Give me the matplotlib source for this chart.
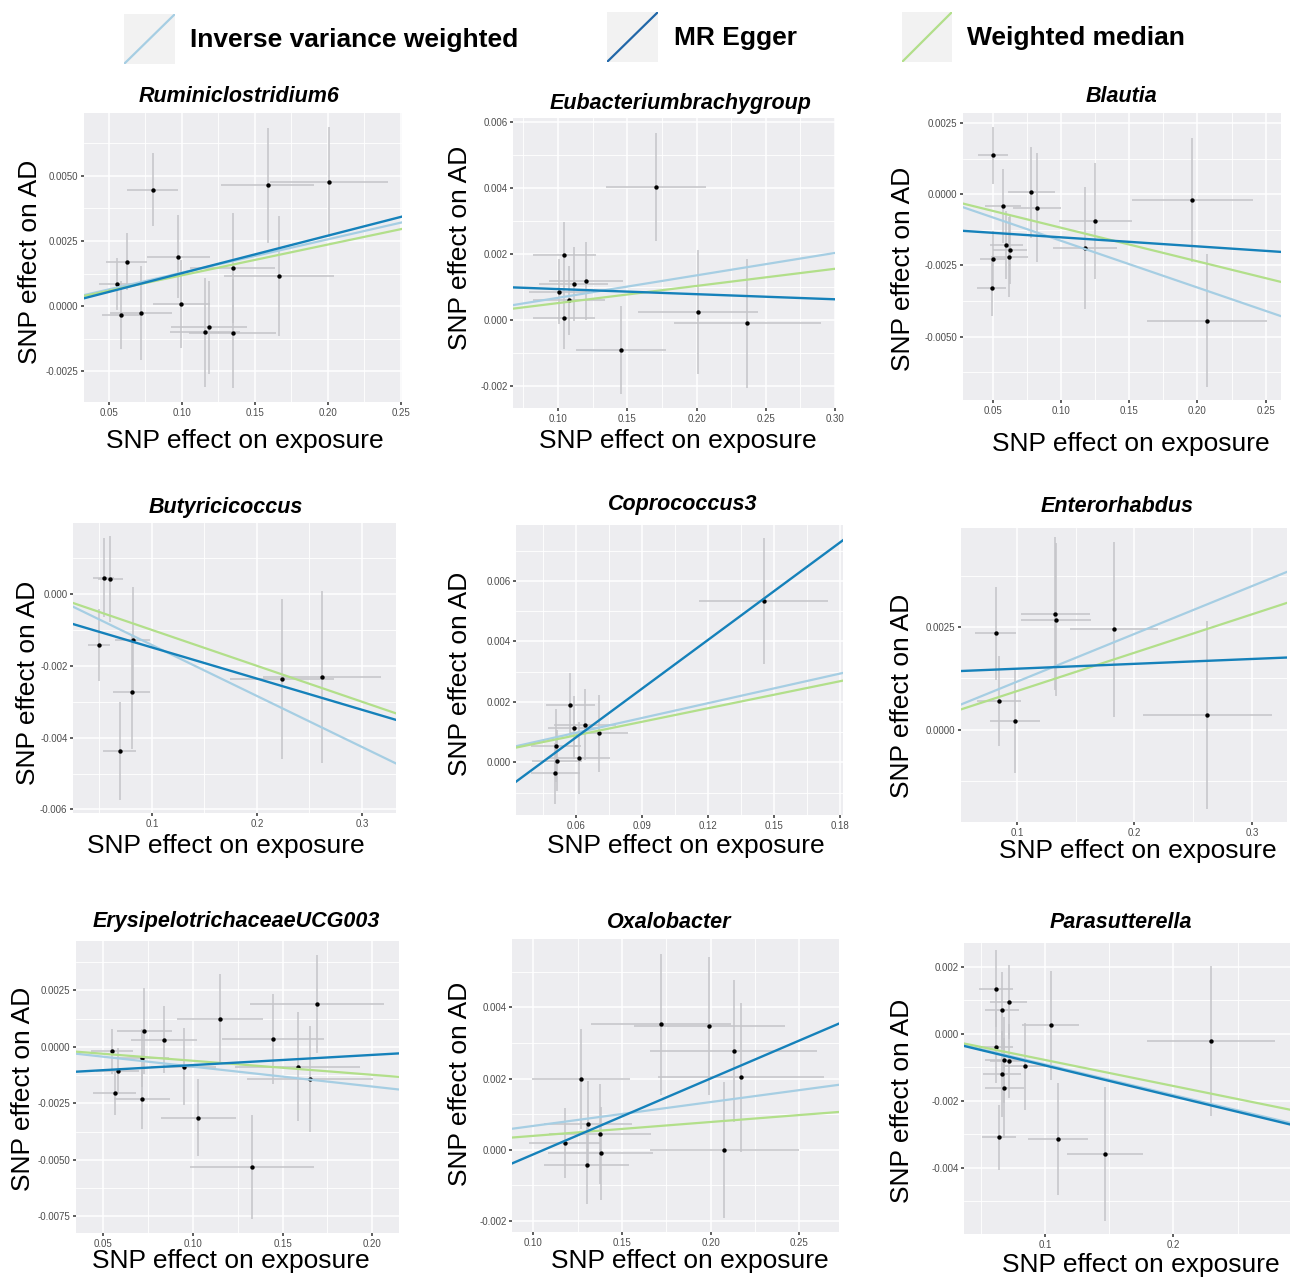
import matplotlib
matplotlib.use("Agg")
import matplotlib.pyplot as plt
from matplotlib.ticker import AutoMinorLocator

plt.rcParams['font.family'] = ['Liberation Sans', 'DejaVu Sans']

# ---- data: per-SNP effects (exposure, outcome) and their standard errors ----
# method lines: IVW and weighted median through origin (slope), MR Egger (intercept, slope)

rum_bx = [0.0553, 0.0622, 0.0585, 0.0720, 0.0800, 0.0975, 0.0998, 0.1160, 0.1188, 0.1350, 0.1349, 0.1667, 0.1590, 0.2010]
rum_by = [0.00085, 0.00170, -0.00035, -0.00026, 0.00446, 0.00190, 0.00008, -0.00101, -0.00082, 0.00146, -0.00105, 0.00115, 0.00464, 0.00477]
rum_sex = [0.012, 0.0138, 0.013, 0.021, 0.0175, 0.0216, 0.0195, 0.024, 0.026, 0.029, 0.030, 0.0376, 0.032, 0.0406]
rum_sey = [0.0010, 0.0011, 0.0013, 0.0018, 0.0014, 0.0016, 0.0017, 0.0021, 0.0018, 0.0021, 0.0021, 0.0023, 0.0022, 0.0021]
rum_ivw, rum_egger, rum_wm = 0.0128, (-0.000175, 0.01438), 0.0118

eub_bx = [0.1046, 0.1010, 0.1113, 0.1205, 0.1077, 0.1043, 0.1706, 0.1455, 0.2012, 0.2366]
eub_by = [0.00199, 0.00087, 0.00109, 0.00118, 0.00060, 0.00008, 0.00404, -0.00091, 0.00025, -0.00009]
eub_sex = [0.0229, 0.022, 0.025, 0.0267, 0.026, 0.0226, 0.036, 0.0325, 0.0434, 0.053]
eub_sey = [0.00098, 0.00098, 0.00112, 0.00118, 0.00105, 0.00095, 0.00165, 0.00134, 0.00187, 0.00196]
eub_ivw, eub_egger, eub_wm = 0.0068, (0.0011, -0.00155), 0.0052

bla_bx = [0.0500, 0.0574, 0.0780, 0.0824, 0.0598, 0.0623, 0.0620, 0.0500, 0.0490, 0.1252, 0.1176, 0.1963, 0.2069]
bla_by = [0.00137, -0.00040, 0.00007, -0.00047, -0.00178, -0.00197, -0.00222, -0.00229, -0.00328, -0.00094, -0.00189, -0.00020, -0.00445]
bla_sex = [0.011, 0.0135, 0.0172, 0.0178, 0.012, 0.0126, 0.0137, 0.0098, 0.0108, 0.0266, 0.0235, 0.0441, 0.0441]
bla_sey = [0.0010, 0.0013, 0.0016, 0.0019, 0.0012, 0.0012, 0.0014, 0.0010, 0.0010, 0.00205, 0.00213, 0.00217, 0.00234]
bla_ivw, bla_egger, bla_wm = -0.0164, (-0.0012, -0.00317), -0.0118

but_bx = [0.0540, 0.0603, 0.0495, 0.0819, 0.0806, 0.0692, 0.2235, 0.2619]
but_by = [0.00046, 0.00043, -0.00142, -0.00129, -0.00272, -0.00438, -0.00236, -0.00231]
but_sex = [0.010, 0.012, 0.0108, 0.0167, 0.018, 0.016, 0.0495, 0.056]
but_sey = [0.0011, 0.0012, 0.0010, 0.0015, 0.0016, 0.00137, 0.00223, 0.0024]
but_ivw, but_egger, but_wm = -0.0142, (-0.00062, -0.00868), -0.0100

cop_bx = [0.0574, 0.0592, 0.0641, 0.0706, 0.0510, 0.0514, 0.0615, 0.0507, 0.1454]
cop_by = [0.00189, 0.00115, 0.00125, 0.00096, 0.00055, 0.00006, 0.00014, -0.00036, 0.00534]
cop_sex = [0.0111, 0.012, 0.014, 0.0132, 0.0114, 0.0115, 0.014, 0.011, 0.0294]
cop_sey = [0.00106, 0.00105, 0.00117, 0.00128, 0.0012, 0.0010, 0.0012, 0.0010, 0.00208]
cop_ivw, cop_egger, cop_wm = 0.0163, (-0.0024, 0.0537), 0.0149

ent_bx = [0.0822, 0.0847, 0.0983, 0.1328, 0.1334, 0.1826, 0.2621]
ent_by = [0.00235, 0.00070, 0.00020, 0.00283, 0.00269, 0.00245, 0.00036]
ent_sex = [0.0174, 0.0188, 0.021, 0.0291, 0.0297, 0.0377, 0.0547]
ent_sey = [0.00114, 0.00111, 0.00126, 0.00187, 0.00187, 0.00213, 0.0023]
ent_ivw, ent_egger, ent_wm = 0.0117, (0.00137, 0.00119), 0.0094

ery_bx = [0.0550, 0.0582, 0.0563, 0.0729, 0.0717, 0.0717, 0.0836, 0.0948, 0.1150, 0.1030, 0.1329, 0.1446, 0.1584, 0.1652, 0.1693]
ery_by = [-0.00020, -0.00106, -0.00203, 0.00068, -0.00050, -0.00232, 0.00032, -0.00088, 0.00124, -0.00313, -0.00534, 0.00035, -0.00088, -0.00141, 0.00190]
ery_sex = [0.0116, 0.012, 0.012, 0.0154, 0.015, 0.0156, 0.0184, 0.018, 0.024, 0.021, 0.0344, 0.0285, 0.0348, 0.035, 0.0374]
ery_sey = [0.0010, 0.0010, 0.0010, 0.0019, 0.0013, 0.0013, 0.0015, 0.0017, 0.00196, 0.00171, 0.0023, 0.0020, 0.0024, 0.00235, 0.00218]
ery_ivw, ery_egger, ery_wm = -0.0088, (-0.00126, 0.0045), -0.0062

oxa_bx = [0.1177, 0.1271, 0.1309, 0.1301, 0.1376, 0.1380, 0.1721, 0.1992, 0.2131, 0.2171, 0.2077]
oxa_by = [0.00020, 0.00198, 0.00072, -0.00042, 0.00045, -0.00010, 0.00353, 0.00348, 0.00278, 0.00203, -0.00001]
oxa_sex = [0.020, 0.0277, 0.025, 0.024, 0.029, 0.0297, 0.0395, 0.0425, 0.047, 0.0467, 0.042]
oxa_sey = [0.00098, 0.0014, 0.0012, 0.0011, 0.0014, 0.0013, 0.00198, 0.00194, 0.0020, 0.0021, 0.0019]
oxa_ivw, oxa_egger, oxa_wm = 0.0067, (-0.00226, 0.02131), 0.0039

par_bx = [0.0618, 0.0719, 0.0665, 0.0618, 0.0683, 0.0717, 0.0665, 0.0683, 0.0842, 0.1044, 0.0639, 0.1099, 0.1465, 0.2291]
par_by = [0.00135, 0.00096, 0.00071, -0.00039, -0.00078, -0.00081, -0.00120, -0.00163, -0.00097, 0.00026, -0.00310, -0.00315, -0.00359, -0.00022]
par_sex = [0.0132, 0.0144, 0.013, 0.013, 0.0153, 0.0145, 0.0147, 0.0153, 0.016, 0.0224, 0.0132, 0.0235, 0.0295, 0.050]
par_sey = [0.00115, 0.0011, 0.00115, 0.00107, 0.0013, 0.0011, 0.0013, 0.0015, 0.0013, 0.00163, 0.00097, 0.00167, 0.0020, 0.00225]
par_ivw, par_egger, par_wm = -0.00915, (-0.00002, -0.00925), -0.0078

titles = ['Ruminiclostridium6', 'Eubacteriumbrachygroup', 'Blautia',
          'Butyricicoccus', 'Coprococcus3', 'Enterorhabdus',
          'ErysipelotrichaceaeUCG003', 'Oxalobacter', 'Parasutterella']

# tick values and labels as printed
x_ticks = [[0.05, 0.10, 0.15, 0.20, 0.25], [0.10, 0.15, 0.20, 0.25, 0.30], [0.05, 0.10, 0.15, 0.20, 0.25],
           [0.1, 0.2, 0.3], [0.06, 0.09, 0.12, 0.15, 0.18], [0.1, 0.2, 0.3],
           [0.05, 0.10, 0.15, 0.20], [0.10, 0.15, 0.20, 0.25], [0.1, 0.2]]
x_ticklabels = [['0.05', '0.10', '0.15', '0.20', '0.25'], ['0.10', '0.15', '0.20', '0.25', '0.30'],
                ['0.05', '0.10', '0.15', '0.20', '0.25'], ['0.1', '0.2', '0.3'],
                ['0.06', '0.09', '0.12', '0.15', '0.18'], ['0.1', '0.2', '0.3'],
                ['0.05', '0.10', '0.15', '0.20'], ['0.10', '0.15', '0.20', '0.25'], ['0.1', '0.2']]
y_ticks = [[-0.0025, 0.0, 0.0025, 0.005], [-0.002, 0.0, 0.002, 0.004, 0.006], [-0.005, -0.0025, 0.0, 0.0025],
           [-0.006, -0.004, -0.002, 0.0], [0.0, 0.002, 0.004, 0.006], [0.0, 0.0025],
           [-0.0075, -0.005, -0.0025, 0.0, 0.0025], [-0.002, 0.0, 0.002, 0.004], [-0.004, -0.002, 0.0, 0.002]]
y_ticklabels = [['-0.0025', '0.0000', '0.0025', '0.0050'], ['-0.002', '0.000', '0.002', '0.004', '0.006'],
                ['-0.0050', '-0.0025', '0.0000', '0.0025'], ['-0.006', '-0.004', '-0.002', '0.000'],
                ['0.000', '0.002', '0.004', '0.006'], ['0.0000', '0.0025'],
                ['-0.0075', '-0.0050', '-0.0025', '0.0000', '0.0025'], ['-0.002', '0.000', '0.002', '0.004'],
                ['-0.004', '-0.002', '0.000', '0.002']]
x_lims = [(0.033, 0.251), (0.0675, 0.300), (0.028, 0.2613), (0.0248, 0.3324), (0.0328, 0.1815),
          (0.0525, 0.3297), (0.0348, 0.2149), (0.088, 0.2724), (0.0369, 0.2909)]
y_lims = [(-0.00368, 0.00741), (-0.00266, 0.00613), (-0.00723, 0.00285), (-0.0061, 0.00198), (-0.00174, 0.00785),
          (-0.00226, 0.00493), (-0.00824, 0.00468), (-0.00231, 0.00592), (-0.00599, 0.00272)]

panels = [
    (rum_bx, rum_by, rum_sex, rum_sey, rum_ivw, rum_egger, rum_wm),
    (eub_bx, eub_by, eub_sex, eub_sey, eub_ivw, eub_egger, eub_wm),
    (bla_bx, bla_by, bla_sex, bla_sey, bla_ivw, bla_egger, bla_wm),
    (but_bx, but_by, but_sex, but_sey, but_ivw, but_egger, but_wm),
    (cop_bx, cop_by, cop_sex, cop_sey, cop_ivw, cop_egger, cop_wm),
    (ent_bx, ent_by, ent_sex, ent_sey, ent_ivw, ent_egger, ent_wm),
    (ery_bx, ery_by, ery_sex, ery_sey, ery_ivw, ery_egger, ery_wm),
    (oxa_bx, oxa_by, oxa_sex, oxa_sey, oxa_ivw, oxa_egger, oxa_wm),
    (par_bx, par_by, par_sex, par_sey, par_ivw, par_egger, par_wm),
]

method_names = ['Inverse variance weighted', 'MR Egger', 'Weighted median']
c_ivw, c_egger, c_wm = '#A6CEE3', '#1581BA', '#B2DF8A'

# ---- layout (pixels in the 1292 x 1279 canvas) ----
W, H = 1292, 1279
boxes = [(84, 113, 402, 402), (513, 118, 835, 408), (963, 113, 1281, 400),
         (73, 523, 396, 813), (516, 525, 843, 815), (961, 528, 1287, 822),
         (76, 941, 399, 1233), (512, 939, 839, 1232), (964, 943, 1290, 1234)]
title_pos = [(239, 96), (681, 103), (1122, 97), (226, 507), (683, 505), (1117, 507),
             (236, 922), (669, 922), (1121, 922)]
ylab_pos = [(30, 262), (460, 248), (903, 269), (28, 683), (460, 674), (902, 696),
            (23, 1089), (460, 1084), (902, 1101)]
xlab_pos = [(245, 441), (678, 441), (1131, 444), (226, 846), (686, 846), (1138, 851),
            (231, 1261), (690, 1261), (1141, 1265)]

fig = plt.figure(figsize=(W / 100, H / 100), dpi=100)
fig.patch.set_facecolor('white')

for i, (bx, by, sex, sey, ivw, egger, wm) in enumerate(panels):
    l, t, r, b = boxes[i]
    ax = fig.add_axes([l / W, 1 - b / H, (r - l) / W, (b - t) / H])
    ax.set_facecolor('#EDEDF0')
    for s in ax.spines.values():
        s.set_visible(False)

    ax.errorbar(bx, by, xerr=sex, yerr=sey, fmt='none', ecolor='#C4C4C8',
                elinewidth=1.1, capsize=0, zorder=2)
    ax.scatter(bx, by, s=10, color='black', zorder=3, linewidths=0)

    ax.axline((0, 0), slope=ivw, color=c_ivw, lw=1.6, zorder=4)
    ax.axline((0, 0), slope=wm, color=c_wm, lw=1.6, zorder=4)
    ax.axline((0, egger[0]), slope=egger[1], color=c_egger, lw=1.7, zorder=5)

    ax.set_xlim(*x_lims[i])
    ax.set_ylim(*y_lims[i])
    ax.set_xticks(x_ticks[i])
    ax.set_xticklabels(x_ticklabels[i])
    ax.set_yticks(y_ticks[i])
    ax.set_yticklabels(y_ticklabels[i])
    ax.xaxis.set_minor_locator(AutoMinorLocator(2))
    ax.yaxis.set_minor_locator(AutoMinorLocator(2))
    ax.grid(which='major', color='white', lw=1.1)
    ax.grid(which='minor', color='white', lw=0.6)
    ax.set_axisbelow(True)
    ax.tick_params(which='major', length=2.5, width=1.1, color='#333333',
                   labelsize=7, labelcolor='#4D4D4D', pad=1.5)
    ax.tick_params(which='minor', length=0)

    # labels and titles
    ax.set_xlabel('SNP effect on exposure', fontsize=19, va='center')
    ax.xaxis.set_label_coords((xlab_pos[i][0] - l) / (r - l), -(xlab_pos[i][1] - b) / (b - t))
    ax.set_ylabel('SNP effect on AD', fontsize=19, va='center')
    ax.yaxis.set_label_coords((ylab_pos[i][0] - l) / (r - l), (b - ylab_pos[i][1]) / (b - t))
    fig.text(title_pos[i][0] / W, 1 - title_pos[i][1] / H, titles[i], fontsize=15.5,
             fontweight='bold', fontstyle='italic', ha='center', va='center')

# ---- legend strip on top ----
key_boxes = [(124, 14, 175, 64), (607, 12, 658, 62), (902, 12, 952, 62)]
key_text = [(190, 40), (674, 38), (967, 38)]
for (l, t, r, b), (tx, ty), name, col in zip(key_boxes, key_text, method_names, [c_ivw, '#2167A8', c_wm]):
    kax = fig.add_axes([l / W, 1 - b / H, (r - l) / W, (b - t) / H])
    kax.set_facecolor('#F2F2F2')
    kax.set_xlim(0, 1)
    kax.set_ylim(0, 1)
    kax.axline((0, 0), slope=1, color=col, lw=1.6)
    kax.set_xticks([])
    kax.set_yticks([])
    for s in kax.spines.values():
        s.set_visible(False)
    fig.text(tx / W, 1 - ty / H, name, fontsize=19, fontweight='bold', ha='left', va='center')

fig.savefig('out.png', dpi=100)
